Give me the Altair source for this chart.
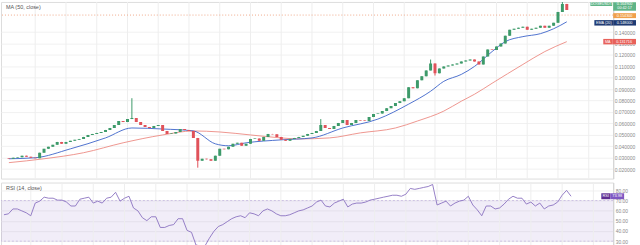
import altair as alt
import pandas as pd

# ---------------- data ----------------
close = [0.0290, 0.0299, 0.0303, 0.0317, 0.0308, 0.0299, 0.0295, 0.0343, 0.0377, 0.0395,
         0.0412, 0.0438, 0.0421, 0.0438, 0.0447, 0.0456, 0.0464, 0.0482, 0.0499, 0.0508,
         0.0517, 0.0525, 0.0543, 0.0560, 0.0586, 0.0621, 0.0612, 0.0638, 0.0647, 0.0612,
         0.0586, 0.0569, 0.0560, 0.0578, 0.0586, 0.0534, 0.0508, 0.0512, 0.0525, 0.0551,
         0.0543, 0.0534, 0.0473, 0.0273, 0.0290, 0.0285, 0.0273, 0.0317, 0.0377, 0.0373,
         0.0395, 0.0421, 0.0430, 0.0404, 0.0421, 0.0464, 0.0468, 0.0447, 0.0482, 0.0508,
         0.0504, 0.0482, 0.0456, 0.0447, 0.0464, 0.0473, 0.0482, 0.0491, 0.0508, 0.0517,
         0.0534, 0.0586, 0.0560, 0.0551, 0.0578, 0.0604, 0.0630, 0.0586, 0.0604, 0.0630,
         0.0626, 0.0621, 0.0656, 0.0682, 0.0686, 0.0708, 0.0734, 0.0752, 0.0778, 0.0795,
         0.0821, 0.0917, 0.0908, 0.0978, 0.1013, 0.1065, 0.1126, 0.1039, 0.1082, 0.1100,
         0.1108, 0.1117, 0.1126, 0.1143, 0.1152, 0.1160, 0.1143, 0.1117, 0.1187, 0.1248,
         0.1244, 0.1274, 0.1300, 0.1369, 0.1421, 0.1430, 0.1439, 0.1448, 0.1421, 0.1430,
         0.1439, 0.1456, 0.1439, 0.1456, 0.1482, 0.1578, 0.1648, 0.1595]
first_open = 0.0295
extra_high = {28: 0.0821, 71: 0.0638, 96: 0.1160, 126: 0.1665}
extra_low = {43: 0.0212, 97: 0.1020}

ema_idx = [0, 6, 14, 22, 28, 35, 42, 47, 50, 54, 62, 69, 76, 84, 91, 96, 99, 103,
           106, 110, 113, 117, 121, 124, 127]
ema_val = [0.0290, 0.0299, 0.0377, 0.0473, 0.0560, 0.0551, 0.0534, 0.0421, 0.0404,
           0.0430, 0.0456, 0.0473, 0.0560, 0.0638, 0.0769, 0.0882, 0.0969, 0.1030,
           0.1100, 0.1230, 0.1317, 0.1361, 0.1387, 0.1430, 0.1491]

sma_idx = [0, 8, 17, 26, 35, 42, 48, 55, 62, 66, 73, 80, 88, 93, 99, 103, 106, 110,
           117, 122, 127]
sma_val = [0.0256, 0.0290, 0.0343, 0.0430, 0.0499, 0.0534, 0.0525, 0.0499, 0.0473,
           0.0464, 0.0473, 0.0517, 0.0560, 0.0621, 0.0708, 0.0795, 0.0856, 0.0952,
           0.1117, 0.1230, 0.1317]

rsi = [56.0, 56.9, 61.7, 61.7, 59.8, 57.9, 55.0, 67.5, 69.4, 73.3,
       72.3, 72.3, 70.4, 70.4, 68.5, 64.6, 64.6, 71.3, 72.3, 73.3,
       67.5, 69.4, 67.5, 72.3, 73.3, 78.1, 69.4, 72.3, 74.2, 62.7,
       59.8, 53.1, 50.2, 54.0, 54.0, 43.5, 43.5, 45.4, 46.3, 52.1,
       52.1, 40.6, 38.7, 26.2, 25.2, 25.2, 32.9, 39.6, 44.4, 46.3,
       49.2, 52.1, 54.0, 55.0, 53.1, 57.9, 56.9, 55.0, 59.8, 61.7,
       59.8, 56.9, 55.0, 55.0, 56.0, 57.9, 59.8, 60.8, 62.7, 64.6,
       68.5, 70.4, 64.6, 63.7, 67.5, 69.4, 71.3, 63.7, 66.5, 67.5,
       67.5, 68.5, 70.4, 71.3, 72.3, 73.3, 74.2, 75.2, 75.2, 74.2,
       76.2, 81.9, 81.0, 81.9, 82.9, 83.8, 85.8, 65.6, 67.5, 69.4,
       64.6, 67.5, 69.4, 70.4, 74.2, 65.6, 60.8, 55.0, 64.6, 64.6,
       61.7, 62.7, 66.5, 71.3, 74.2, 72.3, 72.3, 66.5, 68.5, 64.6,
       67.5, 61.7, 64.6, 65.6, 68.5, 75.2, 80.0, 74.2]

grid_idx = [6, 13, 20, 27, 34, 41, 48, 55, 62, 69, 76, 83, 90, 97, 104, 111, 118, 125, 132]
price_ticks = [0.02, 0.03, 0.04, 0.05, 0.06, 0.07, 0.08, 0.09, 0.10, 0.11, 0.12,
               0.13, 0.14]
rsi_ticks = [30, 40, 50, 60, 70, 80]
last_price_line = 0.1550

tag_price = [0.1646, 0.1610, 0.1545, 0.1482, 0.1317]
tag_left = ["DOGEUSDT", "", "", "EMA (20)", "MA"]
tag_right = ["0.164900", "00:42:17", "0.154300", "0.148000", "0.131716"]
tag_color = ["#5fb487", "#5fb487", "#f0a04b", "#1f3b73", "#e8615a"]

rsi_tag_value = "73.98"
rsi_last = 74.2

# ---------------- build ----------------
opens = [first_open] + close[:-1]
rows = []
for i, c in enumerate(close):
    o = opens[i]
    hi = extra_high.get(i, max(o, c))
    lo = extra_low.get(i, min(o, c))
    rows.append({"i": i, "open": o, "close": c, "high": hi, "low": lo,
                 "dir": "up" if c >= o else "down"})
candles = pd.DataFrame(rows)

X_DOM = [-0.667, 136.44]
W = 617
H_MAIN = 178
H_RSI = 65
P_DOM = [0.01164, 0.1665]
R_DOM = [24.2, 87.7]
FONT = "Liberation Sans"

xs = alt.Scale(domain=X_DOM, nice=False, zero=False)
ys = alt.Scale(domain=P_DOM, nice=False, zero=False)
rs = alt.Scale(domain=R_DOM, nice=False, zero=False)

col = alt.Color("dir:N", scale=alt.Scale(domain=["up", "down"], range=["#3d9a6a", "#e0525a"]),
                legend=None)

yaxis = alt.Axis(orient="right", values=price_ticks, format=".6f", labelFontSize=5,
                 labelColor="#8a8a8a", ticks=False, labelPadding=1, domainColor="#d3d3d3",
                 gridColor="#f1f1f1", title=None, labelFont=FONT)

grid_df = pd.DataFrame({"i": grid_idx})
vgrid = alt.Chart(grid_df).mark_rule(color="#eeeeee", strokeWidth=1).encode(
    x=alt.X("i:Q", scale=xs, axis=None))

base = alt.Chart(candles)
wicks = base.mark_rule(strokeWidth=1, clip=True).encode(
    x=alt.X("i:Q", scale=xs, axis=None),
    y=alt.Y("low:Q", scale=ys, axis=yaxis),
    y2="high:Q", color=col)
bodies = base.mark_bar(size=3, clip=True).encode(
    x=alt.X("i:Q", scale=xs, axis=None),
    y=alt.Y("open:Q", scale=ys, axis=yaxis),
    y2="close:Q", color=col)

ema_df = pd.DataFrame({"i": ema_idx, "v": ema_val})
sma_df = pd.DataFrame({"i": sma_idx, "v": sma_val})
ema_line = alt.Chart(ema_df).mark_line(color="#3b63c9", strokeWidth=0.9,
                                       interpolate="monotone", clip=True).encode(
    x=alt.X("i:Q", scale=xs, axis=None), y=alt.Y("v:Q", scale=ys, axis=yaxis))
sma_line = alt.Chart(sma_df).mark_line(color="#ec8a82", strokeWidth=0.9,
                                       interpolate="monotone", clip=True).encode(
    x=alt.X("i:Q", scale=xs, axis=None), y=alt.Y("v:Q", scale=ys, axis=yaxis))

price_line = alt.Chart(pd.DataFrame({"p": [last_price_line]})).mark_rule(
    color="#f0a98a", strokeDash=[1, 2], strokeWidth=1).encode(
    y=alt.Y("p:Q", scale=ys, axis=yaxis))

main_title = alt.Chart(pd.DataFrame({"t": ["MA (50, close)"]})).mark_text(
    align="left", baseline="middle", fontSize=5.5, color="#555555", font=FONT).encode(
    x=alt.value(5), y=alt.value(5), text="t:N")

tag_layers = []
tag_geom = [  # left box (x0, x1) or None, right box (x0, x1), height
    ((594, 616), (617, 640), 3.8),
    (None, (617, 640), 5.0),
    (None, (617, 640), 5.0),
    ((598, 617), (617, 640), 5.5),
    ((607, 616), (616, 640), 5.5),
]
for k in range(len(tag_price)):
    df = pd.DataFrame({"p": [tag_price[k]], "l": [tag_left[k]], "r": [tag_right[k]]})
    lbox, rbox, h = tag_geom[k]
    tc = alt.Chart(df)
    if lbox is not None:
        tag_layers.append(tc.mark_rule(color=tag_color[k], strokeWidth=h, strokeCap="butt").encode(
            x=alt.value(lbox[0]), x2=alt.value(lbox[1]), y=alt.Y("p:Q", scale=ys, axis=yaxis)))
        tag_layers.append(tc.mark_text(fontSize=3.8, color="white", align="center",
                                       baseline="middle", font=FONT).encode(
            x=alt.value((lbox[0] + lbox[1]) / 2), y=alt.Y("p:Q", scale=ys, axis=yaxis), text="l:N"))
    tag_layers.append(tc.mark_rule(color=tag_color[k], strokeWidth=h, strokeCap="butt").encode(
        x=alt.value(rbox[0]), x2=alt.value(rbox[1]), y=alt.Y("p:Q", scale=ys, axis=yaxis)))
    tag_layers.append(tc.mark_text(fontSize=3.8, color="white", align="center",
                                   baseline="middle", font=FONT).encode(
        x=alt.value((rbox[0] + rbox[1]) / 2), y=alt.Y("p:Q", scale=ys, axis=yaxis), text="r:N"))

main = alt.layer(vgrid, price_line, sma_line, ema_line, wicks, bodies, main_title,
                 *tag_layers).properties(width=W, height=H_MAIN)

# RSI panel
rsi_df = pd.DataFrame({"i": list(range(len(rsi))), "r": rsi})
raxis = alt.Axis(orient="right", values=rsi_ticks, format=".2f", labelFontSize=5,
                 labelColor="#8a8a8a", ticks=False, labelPadding=2, domainColor="#d3d3d3",
                 gridColor="#f1f1f1", title=None, labelFont=FONT)
band = alt.Chart(pd.DataFrame({"a": [70], "b": [30]})).mark_rect(
    color="#7e57c2", opacity=0.11).encode(
    x=alt.value(0), x2=alt.value("width"),
    y=alt.Y("a:Q", scale=rs, axis=raxis), y2="b:Q")
band_lines = alt.Chart(pd.DataFrame({"a": [70, 30]})).mark_rule(
    color="#b7a6d8", strokeDash=[2, 2], strokeWidth=0.6).encode(
    y=alt.Y("a:Q", scale=rs, axis=raxis))
rgrid = alt.Chart(grid_df).mark_rule(color="#eeeeee", strokeWidth=1).encode(
    x=alt.X("i:Q", scale=xs, axis=None))
rsi_line = alt.Chart(rsi_df).mark_line(color="#8a72c0", strokeWidth=0.9, clip=True).encode(
    x=alt.X("i:Q", scale=xs, axis=None), y=alt.Y("r:Q", scale=rs, axis=raxis))
rsi_title = alt.Chart(pd.DataFrame({"t": ["RSI (14, close)"]})).mark_text(
    align="left", baseline="middle", fontSize=5.5, color="#555555", font=FONT).encode(
    x=alt.value(5), y=alt.value(6), text="t:N")
rtag_df = pd.DataFrame({"r": [rsi_last], "l": ["RSI"], "v": [rsi_tag_value]})
rtc = alt.Chart(rtag_df)
rsi_tags = [
    rtc.mark_rule(color="#5e2d91", strokeWidth=6, strokeCap="butt").encode(
        x=alt.value(605), x2=alt.value(614), y=alt.Y("r:Q", scale=rs, axis=raxis)),
    rtc.mark_rule(color="#7e57c2", strokeWidth=6, strokeCap="butt").encode(
        x=alt.value(614), x2=alt.value(628), y=alt.Y("r:Q", scale=rs, axis=raxis)),
    rtc.mark_text(fontSize=4, color="white", align="center", baseline="middle", font=FONT).encode(
        x=alt.value(609.5), y=alt.Y("r:Q", scale=rs, axis=raxis), text="l:N"),
    rtc.mark_text(fontSize=4, color="white", align="center", baseline="middle", font=FONT).encode(
        x=alt.value(621), y=alt.Y("r:Q", scale=rs, axis=raxis), text="v:N"),
]
rsi_panel = alt.layer(band, rgrid, band_lines, rsi_line, rsi_title, *rsi_tags).properties(
    width=W, height=H_RSI)

chart = alt.vconcat(main, rsi_panel, spacing=2).resolve_scale(
    y="independent").properties(padding={"left": 0, "top": 0, "right": 0, "bottom": 0}
).configure_view(stroke="#d6d6d6", strokeWidth=1).configure(background="white")

chart.save("out.html", embed_options={"renderer": "svg", "actions": False})
